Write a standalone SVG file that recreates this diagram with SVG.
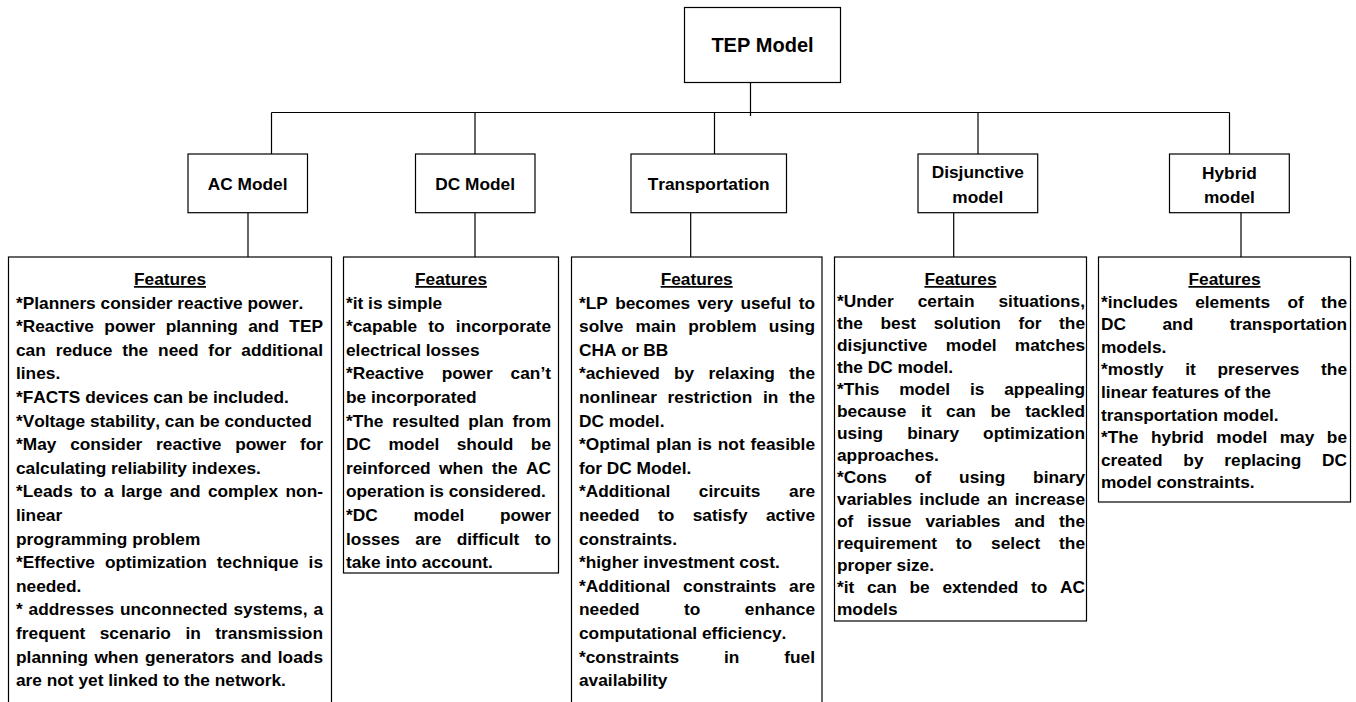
<svg xmlns="http://www.w3.org/2000/svg" width="1356" height="702" viewBox="0 0 1356 702">
<style>
.box{fill:#fff;stroke:#000;stroke-width:1.2}
.ln{fill:none;stroke:#000;stroke-width:1.2}
text{font-family:"Liberation Sans",Arial,sans-serif;font-weight:bold;fill:#000;font-kerning:none}
.t{font-size:17.3px}
.h{font-size:17.3px;text-anchor:middle;text-decoration:underline}
.n{font-size:17.3px;text-anchor:middle}
.top{font-size:20px;text-anchor:middle}
</style>
<rect width="1356" height="702" fill="#fff"/>
<g id="connectors">
<path class="ln" d="M750.5,83V116M271.5,112.5H1229.5M271.5,112.5V154M475,112.5V154M714.5,112.5V154M1229.5,112.5V154"/>
<path class="ln" d="M978,112.5V154" stroke-width="2"/>
<path class="ln" d="M248,212.7V257M475,212.7V257M690.7,211V257M953.7,212.7V257M1241,212.7V257"/>
</g>
<g id="tep">
<rect class="box" x="684.5" y="7.5" width="156" height="75"/>
<text class="top" x="762.5" y="52">TEP Model</text>
</g>
<g id="ac">
<rect class="box" x="188" y="154" width="119.5" height="58.7"/>
<text class="n" x="247.7" y="189.5">AC Model</text>
</g>
<g id="dc">
<rect class="box" x="415.5" y="154" width="119.5" height="58.7"/>
<text class="n" x="475.2" y="189.5">DC Model</text>
</g>
<g id="transportation">
<rect class="box" x="631" y="154" width="155.5" height="58.7"/>
<text class="n" x="708.7" y="189.5">Transportation</text>
</g>
<g id="disjunctive">
<rect class="box" x="918" y="154" width="119.7" height="58.7"/>
<text class="n" x="977.8" y="177.5">Disjunctive</text>
<text class="n" x="977.8" y="202.5">model</text>
</g>
<g id="hybrid">
<rect class="box" x="1169.5" y="154" width="119.8" height="58.7"/>
<text class="n" x="1229.4" y="178.5">Hybrid</text>
<text class="n" x="1229.4" y="203">model</text>
</g>
<g id="ac-features">
<rect class="box" x="8.5" y="257" width="323" height="470"/>
<text class="h" x="170" y="285">Features</text>
<text class="t" x="16" y="308.6">*Planners consider reactive power.</text>
<text class="t" x="16" y="332.2" style="word-spacing:5.6px" textLength="307" lengthAdjust="spacing">*Reactive power planning and TEP</text>
<text class="t" x="16" y="355.8" style="word-spacing:5.06px" textLength="307" lengthAdjust="spacing">can reduce the need for additional</text>
<text class="t" x="16" y="379.4">lines.</text>
<text class="t" x="16" y="403">*FACTS devices can be included.</text>
<text class="t" x="16" y="426.6">*Voltage stability, can be conducted</text>
<text class="t" x="16" y="450.2" style="word-spacing:8.97px" textLength="307" lengthAdjust="spacing">*May consider reactive power for</text>
<text class="t" x="16" y="473.8">calculating reliability indexes.</text>
<text class="t" x="16" y="497.4" style="word-spacing:2.6px" textLength="307" lengthAdjust="spacing">*Leads to a large and complex non-</text>
<text class="t" x="16" y="521">linear</text>
<text class="t" x="16" y="544.6">programming problem</text>
<text class="t" x="16" y="568.2" style="word-spacing:5.2px" textLength="307" lengthAdjust="spacing">*Effective optimization technique is</text>
<text class="t" x="16" y="591.8">needed.</text>
<text class="t" x="16" y="615.4" style="word-spacing:1px" textLength="307" lengthAdjust="spacing">* addresses unconnected systems, a</text>
<text class="t" x="16" y="639" style="word-spacing:9.7px" textLength="307" lengthAdjust="spacing">frequent scenario in transmission</text>
<text class="t" x="16" y="662.6" style="word-spacing:1.5px" textLength="307" lengthAdjust="spacing">planning when generators and loads</text>
<text class="t" x="16" y="686.2">are not yet linked to the network.</text>
</g>
<g id="dc-features">
<rect class="box" x="343.5" y="257" width="215" height="316"/>
<text class="h" x="451" y="285">Features</text>
<text class="t" x="346" y="308.6">*it is simple</text>
<text class="t" x="346" y="332.2" style="word-spacing:6.35px" textLength="205" lengthAdjust="spacing">*capable to incorporate</text>
<text class="t" x="346" y="355.8">electrical losses</text>
<text class="t" x="346" y="379.4" style="word-spacing:13.1px" textLength="205" lengthAdjust="spacing">*Reactive power can’t</text>
<text class="t" x="346" y="403">be incorporated</text>
<text class="t" x="346" y="426.6" style="word-spacing:3.9px" textLength="205" lengthAdjust="spacing">*The resulted plan from</text>
<text class="t" x="346" y="450.2" style="word-spacing:12.6px" textLength="205" lengthAdjust="spacing">DC model should be</text>
<text class="t" x="346" y="473.8" style="word-spacing:3.6px" textLength="205" lengthAdjust="spacing">reinforced when the AC</text>
<text class="t" x="346" y="497.4">operation is considered.</text>
<text class="t" x="346" y="521" style="word-spacing:30.9px" textLength="205" lengthAdjust="spacing">*DC model power</text>
<text class="t" x="346" y="544.6" style="word-spacing:10.6px" textLength="205" lengthAdjust="spacing">losses are difficult to</text>
<text class="t" x="346" y="568.2">take into account.</text>
</g>
<g id="transportation-features">
<rect class="box" x="571.5" y="257" width="250.5" height="470"/>
<text class="h" x="696.7" y="285">Features</text>
<text class="t" x="579" y="308.6" style="word-spacing:2.5px" textLength="236" lengthAdjust="spacing">*LP becomes very useful to</text>
<text class="t" x="579" y="332.2" style="word-spacing:7.5px" textLength="236" lengthAdjust="spacing">solve main problem using</text>
<text class="t" x="579" y="355.8">CHA or BB</text>
<text class="t" x="579" y="379.4" style="word-spacing:9.4px" textLength="236" lengthAdjust="spacing">*achieved by relaxing the</text>
<text class="t" x="579" y="403" style="word-spacing:5.9px" textLength="236" lengthAdjust="spacing">nonlinear restriction in the</text>
<text class="t" x="579" y="426.6">DC model.</text>
<text class="t" x="579" y="450.2" style="word-spacing:1.1px" textLength="236" lengthAdjust="spacing">*Optimal plan is not feasible</text>
<text class="t" x="579" y="473.8">for DC Model.</text>
<text class="t" x="579" y="497.4" style="word-spacing:23.8px" textLength="236" lengthAdjust="spacing">*Additional circuits are</text>
<text class="t" x="579" y="521" style="word-spacing:13.6px" textLength="236" lengthAdjust="spacing">needed to satisfy active</text>
<text class="t" x="579" y="544.6">constraints.</text>
<text class="t" x="579" y="568.2">*higher investment cost.</text>
<text class="t" x="579" y="591.8" style="word-spacing:7.9px" textLength="236" lengthAdjust="spacing">*Additional constraints are</text>
<text class="t" x="579" y="615.4" style="word-spacing:39.6px" textLength="236" lengthAdjust="spacing">needed to enhance</text>
<text class="t" x="579" y="639">computational efficiency.</text>
<text class="t" x="579" y="662.6" style="word-spacing:40.1px" textLength="236" lengthAdjust="spacing">*constraints in fuel</text>
<text class="t" x="579" y="686.2">availability</text>
</g>
<g id="disjunctive-features">
<rect class="box" x="834.5" y="257" width="252" height="364"/>
<text class="h" x="960.5" y="285">Features</text>
<text class="t" x="837" y="307" style="word-spacing:19.2px" textLength="248" lengthAdjust="spacing">*Under certain situations,</text>
<text class="t" x="837" y="329" style="word-spacing:12.75px" textLength="248" lengthAdjust="spacing">the best solution for the</text>
<text class="t" x="837" y="351" style="word-spacing:13.4px" textLength="248" lengthAdjust="spacing">disjunctive model matches</text>
<text class="t" x="837" y="373">the DC model.</text>
<text class="t" x="837" y="395" style="word-spacing:15px" textLength="248" lengthAdjust="spacing">*This model is appealing</text>
<text class="t" x="837" y="417" style="word-spacing:9.8px" textLength="248" lengthAdjust="spacing">because it can be tackled</text>
<text class="t" x="837" y="439" style="word-spacing:19.2px" textLength="248" lengthAdjust="spacing">using binary optimization</text>
<text class="t" x="837" y="461">approaches.</text>
<text class="t" x="837" y="483" style="word-spacing:23.1px" textLength="248" lengthAdjust="spacing">*Cons of using binary</text>
<text class="t" x="837" y="505" style="word-spacing:2.5px" textLength="248" lengthAdjust="spacing">variables include an increase</text>
<text class="t" x="837" y="527" style="word-spacing:9.1px" textLength="248" lengthAdjust="spacing">of issue variables and the</text>
<text class="t" x="837" y="549" style="word-spacing:14.1px" textLength="248" lengthAdjust="spacing">requirement to select the</text>
<text class="t" x="837" y="571">proper size.</text>
<text class="t" x="837" y="593" style="word-spacing:7.9px" textLength="248" lengthAdjust="spacing">*it can be extended to AC</text>
<text class="t" x="837" y="615">models</text>
</g>
<g id="hybrid-features">
<rect class="box" x="1098.5" y="257" width="252" height="245"/>
<text class="h" x="1224.5" y="285">Features</text>
<text class="t" x="1101" y="307.6" style="word-spacing:12.5px" textLength="246" lengthAdjust="spacing">*includes elements of the</text>
<text class="t" x="1101" y="330.2" style="word-spacing:31.7px" textLength="246" lengthAdjust="spacing">DC and transportation</text>
<text class="t" x="1101" y="352.8">models.</text>
<text class="t" x="1101" y="375.4" style="word-spacing:16.9px" textLength="246" lengthAdjust="spacing">*mostly it preserves the</text>
<text class="t" x="1101" y="398">linear features of the</text>
<text class="t" x="1101" y="420.6">transportation model.</text>
<text class="t" x="1101" y="443.2" style="word-spacing:7.65px" textLength="246" lengthAdjust="spacing">*The hybrid model may be</text>
<text class="t" x="1101" y="465.8" style="word-spacing:16px" textLength="246" lengthAdjust="spacing">created by replacing DC</text>
<text class="t" x="1101" y="488.4">model constraints.</text>
</g>
</svg>
